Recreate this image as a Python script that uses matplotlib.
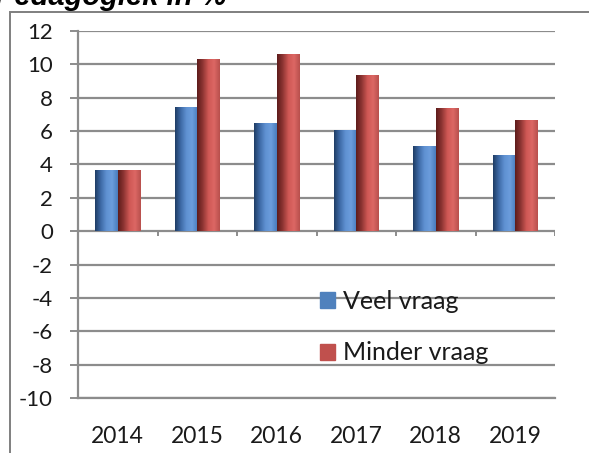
import numpy as np
import matplotlib
matplotlib.use("Agg")
import matplotlib.pyplot as plt
from matplotlib.patches import Patch, Rectangle
from matplotlib.colors import LinearSegmentedColormap

plt.rcParams['font.family'] = ['Lato', 'DejaVu Sans']
plt.rcParams['axes.unicode_minus'] = False

years = ['2014', '2015', '2016', '2017', '2018', '2019']
veel_vraag = [3.6, 7.4, 6.45, 6.0, 5.05, 4.55]
minder_vraag = [3.6, 10.3, 10.6, 9.3, 7.35, 6.6]
series_names = ['Veel vraag', 'Minder vraag']
title = 'Pedagogiek in %'

blue = '#4f81bd'
red = '#c0504d'
grid_col = '#8c8c8c'

# cylinder-ish shading like the old excel bars
blue_cm = LinearSegmentedColormap.from_list('b', ['#1f3d66', '#3e6aa6', '#5f91d2', '#6c9ddc', '#4a7cbd'])
red_cm = LinearSegmentedColormap.from_list('r', ['#5e1c1b', '#8e3533', '#cf5855', '#dc6764', '#b8504d'])

fig = plt.figure(figsize=(5.89, 4.53), dpi=100)
ax = fig.add_axes([78/589, 1-398/453, 477/589, 367/453])

x = np.arange(len(years))
w = 0.283
b1 = ax.bar(x - w/2, veel_vraag, w, color=blue, zorder=3)
b2 = ax.bar(x + w/2, minder_vraag, w, color=red, zorder=3)

grad = np.linspace(0, 1, 64).reshape(1, -1)
for bars, cm in ((b1, blue_cm), (b2, red_cm)):
    for b in bars:
        x0, y0 = b.get_x(), b.get_y()
        ax.imshow(grad, cmap=cm, aspect='auto', zorder=4,
                  extent=(x0, x0 + b.get_width(), y0, y0 + b.get_height()))

ax.set_xlim(-0.5, len(years) - 0.5)
ax.set_ylim(-10, 12)
ax.set_yticks(np.arange(-10, 13, 2))
ax.yaxis.grid(True, color=grid_col, lw=1.6, zorder=1)
ax.set_axisbelow(True)

ax.set_xticks(x)
ax.set_xticklabels(years, fontsize=16.5, color='#1a1a1a')
ax.tick_params(axis='x', length=0, pad=20)
ax.tick_params(axis='y', length=6, width=1.4, color=grid_col, pad=12,
               labelsize=16, labelcolor='#1a1a1a')

# category boundary marks hang under the zero line
ax.vlines(np.arange(len(years) + 1) - 0.5, -0.3, 0, color=grid_col, lw=1.4, zorder=2)

for s in ['top', 'right']:
    ax.spines[s].set_visible(False)
for s in ['left', 'bottom']:
    ax.spines[s].set_color(grid_col)
    ax.spines[s].set_linewidth(1.6)

handles = [Patch(color=blue), Patch(color=red)]
ax.legend(handles, series_names, loc='upper left', bbox_to_anchor=(0.507, 0.295),
          frameon=False, fontsize=18, handlelength=0.6, handleheight=0.6,
          handletextpad=0.32, labelspacing=1.15, borderpad=0, borderaxespad=0,
          labelcolor='#1a1a1a')

# outer chart frame, runs off the picture
fig.patches.append(Rectangle((10/589, -0.1), 1.2, 1.1 - 12/453, transform=fig.transFigure,
                             fill=False, edgecolor='#7f7f7f', lw=1.4))

fig.text(-0.008, 1 - 5/453, title, fontsize=21, fontweight='bold', fontstyle='italic',
         family=['Liberation Sans', 'DejaVu Sans'], va='baseline', ha='left')

plt.savefig('out.png', dpi=100)
